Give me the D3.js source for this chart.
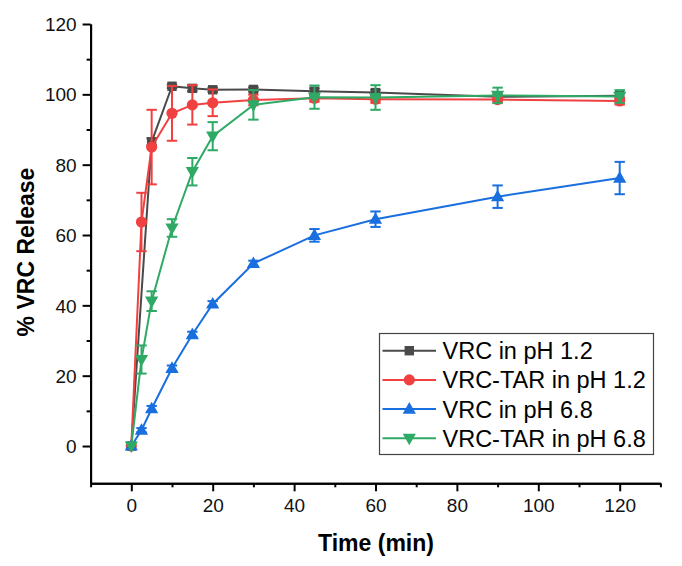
<!DOCTYPE html>
<html>
<head>
<meta charset="utf-8">
<script src="https://cdn.jsdelivr.net/npm/d3@7"></script>
<style>
  html, body { margin: 0; padding: 0; background: #fff; }
  svg { display: block; }
</style>
</head>
<body>
<svg id="chart" width="682" height="566"></svg>
<script>
// ---- data ----
const times = [0, 2.5, 5, 10, 15, 20, 30, 45, 60, 90, 120];

const vrcPH12      = [0, null, 86.5, 102.3, 101.7, 101.3, 101.4, 100.9, 100.5, 99.3, 99.6];
const vrcPH12Err   = [0, null, 1.0, 0.5, 0.8, 0.6, 0.6, 0.8, 0.8, 0.6, 0.8];
const tarPH12      = [0, 63.7, 85.0, 94.6, 97.0, 97.6, 98.4, 98.9, 98.6, 98.5, 98.1];
const tarPH12Err   = [0, 8.3, 10.6, 7.8, 5.6, 3.8, 1.5, 1.0, 1.0, 0.8, 1.0];
const vrcPH68      = [0, 4.5, 10.6, 22.1, 31.7, 40.4, 51.9, 59.9, 64.5, 70.9, 76.2];
const vrcPH68Err   = [0, 0.6, 0.8, 0.8, 0.8, 0.8, 0.8, 1.8, 2.2, 3.2, 4.6];
const tarPH68      = [0, 24.6, 41.2, 62.0, 78.0, 88.1, 97.0, 99.2, 99.1, 99.7, 99.4];
const tarPH68Err   = [0, 4.0, 2.8, 2.5, 3.9, 4.0, 4.2, 3.3, 3.5, 2.2, 1.8];

const seriesNames = ["VRC in pH 1.2", "VRC-TAR in pH 1.2", "VRC in pH 6.8", "VRC-TAR in pH 6.8"];
const xMajorTicks = [0, 20, 40, 60, 80, 100, 120];
const xMinorTicks = [-10, 10, 30, 50, 70, 90, 110, 130];
const yMajorTicks = [0, 20, 40, 60, 80, 100, 120];
const yMinorTicks = [10, 30, 50, 70, 90, 110];
const xTitle = "Time (min)";
const yTitle = "% VRC Release";

// ---- styling ----
const colors = ["#4a4a4a", "#F14040", "#1A6FDF", "#2FAA66"];
const shapes = ["square", "circle", "triUp", "triDown"];
const FONT = "'Liberation Sans', Arial, Helvetica, sans-serif";

const series = [
  { name: seriesNames[0], vals: vrcPH12, errs: vrcPH12Err },
  { name: seriesNames[1], vals: tarPH12, errs: tarPH12Err },
  { name: seriesNames[2], vals: vrcPH68, errs: vrcPH68Err },
  { name: seriesNames[3], vals: tarPH68, errs: tarPH68Err }
].map((s, i) => ({
  ...s,
  color: colors[i],
  shape: shapes[i],
  pts: times.map((t, j) => ({ t, v: s.vals[j], e: s.errs[j] })).filter(d => d.v !== null)
}));

const svg = d3.select("#chart");

const x = d3.scaleLinear().domain([-10, 130]).range([90.6, 660.4]);
const y = d3.scaleLinear().domain([-10.6, 120]).range([483.3, 24]);

function markerPath(shape) {
  switch (shape) {
    case "square": return "M-4.7,-4.7H4.7V4.7H-4.7Z";
    case "circle": return "M5.6,0A5.6,5.6 0 1,1 -5.6,0A5.6,5.6 0 1,1 5.6,0Z";
    case "triUp": return "M0,-7L6.6,4.6L-6.6,4.6Z";
    case "triDown": return "M0,7L6.6,-4.6L-6.6,-4.6Z";
  }
}

// ---- axes ----
const xAxisG = svg.append("g").attr("transform", `translate(0,${y(-10.6)})`);
xAxisG.call(d3.axisBottom(x).tickValues(xMajorTicks).tickSize(8).tickSizeOuter(0).tickPadding(4).tickFormat(d3.format("d")));
const xMinorG = svg.append("g").attr("transform", `translate(0,${y(-10.6)})`);
xMinorG.call(d3.axisBottom(x).tickValues(xMinorTicks).tickSize(4).tickSizeOuter(0).tickFormat(""));

const yAxisG = svg.append("g").attr("transform", `translate(${x(-10)},0)`);
yAxisG.call(d3.axisLeft(y).tickValues(yMajorTicks).tickSize(8).tickSizeOuter(0).tickPadding(6).tickFormat(d3.format("d")));
const yMinorG = svg.append("g").attr("transform", `translate(${x(-10)},0)`);
yMinorG.call(d3.axisLeft(y).tickValues(yMinorTicks).tickSize(4).tickSizeOuter(0).tickFormat(""));

[xAxisG, xMinorG, yAxisG, yMinorG].forEach(g => {
  g.selectAll("path.domain").attr("stroke", "#000").attr("stroke-width", 2);
  g.selectAll(".tick line").attr("stroke", "#000").attr("stroke-width", 2);
  g.selectAll(".tick text").attr("font-family", FONT).attr("font-size", 19).attr("fill", "#111");
});
xAxisG.selectAll(".tick text").attr("dy", "0.9em");
yAxisG.selectAll(".tick text").attr("dy", "0.35em");

// axis titles
svg.append("text")
  .attr("x", 376).attr("y", 551)
  .attr("text-anchor", "middle")
  .attr("font-family", FONT).attr("font-weight", "bold").attr("font-size", 23)
  .attr("fill", "#000")
  .text(xTitle);

svg.append("text")
  .attr("transform", "translate(34,252) rotate(-90)")
  .attr("text-anchor", "middle")
  .attr("font-family", FONT).attr("font-weight", "bold").attr("font-size", 23)
  .attr("fill", "#000")
  .text(yTitle);

// ---- series ----
const line = d3.line().x(d => x(d.t)).y(d => y(d.v));
const capW = 5.2;

series.forEach(s => {
  const g = svg.append("g");
  g.append("path")
    .datum(s.pts)
    .attr("d", line)
    .attr("fill", "none")
    .attr("stroke", s.color)
    .attr("stroke-width", 2);

  const eb = g.selectAll("g.err").data(s.pts.filter(d => d.e > 0)).join("g").attr("class", "err");
  eb.append("line")
    .attr("x1", d => x(d.t)).attr("x2", d => x(d.t))
    .attr("y1", d => y(d.v + d.e)).attr("y2", d => y(d.v - d.e))
    .attr("stroke", s.color).attr("stroke-width", 2);
  eb.append("line")
    .attr("x1", d => x(d.t) - capW).attr("x2", d => x(d.t) + capW)
    .attr("y1", d => y(d.v + d.e)).attr("y2", d => y(d.v + d.e))
    .attr("stroke", s.color).attr("stroke-width", 2);
  eb.append("line")
    .attr("x1", d => x(d.t) - capW).attr("x2", d => x(d.t) + capW)
    .attr("y1", d => y(d.v - d.e)).attr("y2", d => y(d.v - d.e))
    .attr("stroke", s.color).attr("stroke-width", 2);

  g.selectAll("path.mk").data(s.pts).join("path")
    .attr("class", "mk")
    .attr("transform", d => `translate(${x(d.t)},${y(d.v)})`)
    .attr("d", markerPath(s.shape))
    .attr("fill", s.color);
});

// ---- legend ----
const lg = svg.append("g");
lg.append("rect")
  .attr("x", 379.5).attr("y", 333.5).attr("width", 274).attr("height", 121)
  .attr("fill", "#fff").attr("stroke", "#444").attr("stroke-width", 1.2);
const rowY = d3.scaleLinear().domain([0, 3]).range([350.7, 438.3]);
series.forEach((s, i) => {
  const cy = rowY(i);
  lg.append("line").attr("x1", 382.5).attr("x2", 436).attr("y1", cy).attr("y2", cy)
    .attr("stroke", s.color).attr("stroke-width", 2);
  lg.append("path").attr("transform", `translate(409.3,${cy})`).attr("d", markerPath(s.shape)).attr("fill", s.color);
  lg.append("text").attr("x", 442.5).attr("y", cy).attr("dy", "0.36em")
    .attr("font-family", FONT).attr("font-size", 23.5).attr("fill", "#000")
    .text(s.name);
});
</script>
</body>
</html>
